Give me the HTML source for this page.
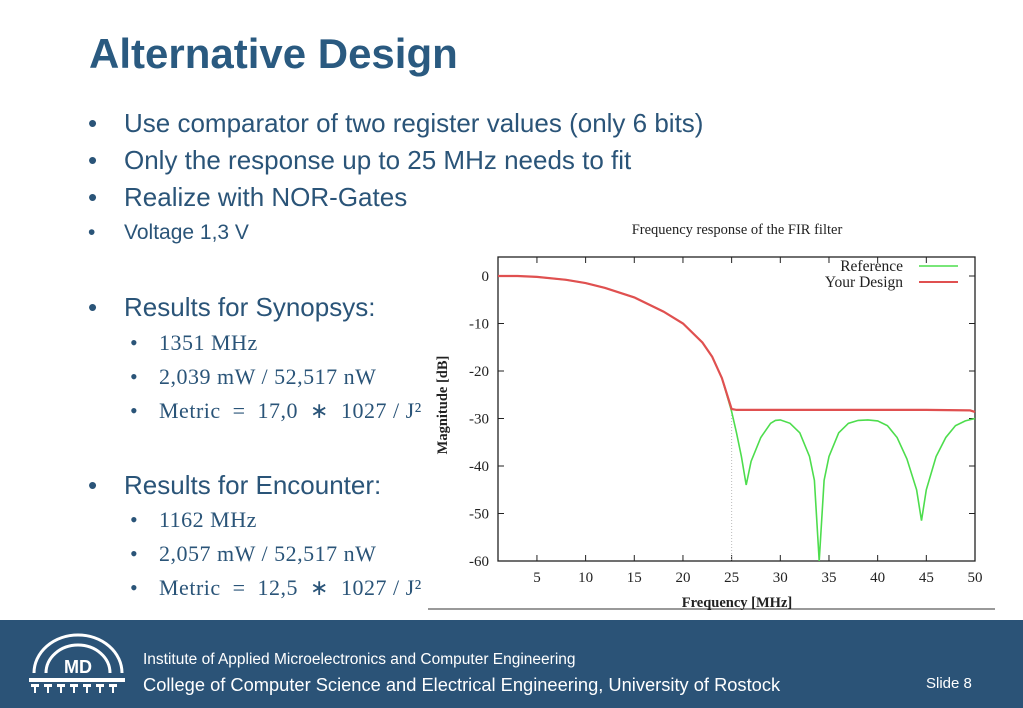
<!DOCTYPE html>
<html><head><meta charset="utf-8"><style>
body{margin:0;width:1023px;height:708px;position:relative;background:#fff;overflow:hidden;font-family:"Liberation Sans",sans-serif;color:#2a5478}
.a{position:absolute;white-space:nowrap}
.b{font-size:26px}
.s{font-family:"Liberation Serif",serif;font-size:22px;letter-spacing:0.5px}
</style></head><body>
<div class="a" style="left:89px;top:30px;font-size:42px;font-weight:bold;color:#2a5a80">Alternative Design</div>
<div class="a b" style="left:88px;top:108px">•<span style="position:absolute;left:36px">Use comparator of two register values (only 6 bits)</span></div>
<div class="a b" style="left:88px;top:145px">•<span style="position:absolute;left:36px">Only the response up to 25 MHz needs to fit</span></div>
<div class="a b" style="left:88px;top:182px">•<span style="position:absolute;left:36px">Realize with NOR-Gates</span></div>
<div class="a" style="left:88px;top:221px;font-size:21px">•<span style="position:absolute;left:36px">Voltage 1,3 V</span></div>
<div class="a b" style="left:88px;top:292px">•<span style="position:absolute;left:36px">Results for Synopsys:</span></div>
<div class="a s" style="left:130px;top:330px">•<span style="position:absolute;left:29px">1351 MHz</span></div>
<div class="a s" style="left:130px;top:364px">•<span style="position:absolute;left:29px">2,039 mW / 52,517 nW</span></div>
<div class="a s" style="left:130px;top:398px">•<span style="position:absolute;left:29px">Metric &nbsp;= &nbsp;17,0 &nbsp;∗ &nbsp;1027 / J²</span></div>
<div class="a b" style="left:88px;top:470px">•<span style="position:absolute;left:36px">Results for Encounter:</span></div>
<div class="a s" style="left:130px;top:507px">•<span style="position:absolute;left:29px">1162 MHz</span></div>
<div class="a s" style="left:130px;top:541px">•<span style="position:absolute;left:29px">2,057 mW / 52,517 nW</span></div>
<div class="a s" style="left:130px;top:575px">•<span style="position:absolute;left:29px">Metric &nbsp;= &nbsp;12,5 &nbsp;∗ &nbsp;1027 / J²</span></div>

<svg class="a" style="left:0;top:0" width="1023" height="708" font-family="Liberation Serif, serif" fill="#222">
<line x1="428" y1="609" x2="995" y2="609" stroke="#333" stroke-width="1"/>
<text x="737" y="234" text-anchor="middle" font-size="14.5">Frequency response of the FIR filter</text>
<text transform="translate(447,405) rotate(-90)" text-anchor="middle" font-size="14.5" font-weight="bold">Magnitude [dB]</text>
<text x="737" y="607" text-anchor="middle" font-size="14.5" font-weight="bold">Frequency [MHz]</text>
<g id="g"></g>
</svg>

<div class="a" style="left:0;top:620px;width:1023px;height:88px;background:#2b5377"></div>
<svg class="a" style="left:26px;top:628px" width="105" height="70" fill="none" stroke="#fff">
<path d="M8 45 A44 38 0 0 1 96 45" stroke-width="3"/>
<path d="M20 45 A32 28 0 0 1 84 45" stroke-width="3"/>
<text x="52" y="45" text-anchor="middle" fill="#fff" stroke="none" font-size="18" font-weight="bold" font-family="Liberation Sans, sans-serif">MD</text>
<rect x="3" y="50" width="96" height="4" fill="#fff" stroke="none"/>
<g fill="#fff" stroke="none">
<rect x="5" y="56" width="8" height="3"/><rect x="18" y="56" width="8" height="3"/><rect x="31" y="56" width="8" height="3"/><rect x="44" y="56" width="8" height="3"/><rect x="57" y="56" width="8" height="3"/><rect x="70" y="56" width="8" height="3"/><rect x="83" y="56" width="8" height="3"/>
<rect x="8" y="59" width="2" height="6"/><rect x="21" y="59" width="2" height="6"/><rect x="34" y="59" width="2" height="6"/><rect x="47" y="59" width="2" height="6"/><rect x="60" y="59" width="2" height="6"/><rect x="73" y="59" width="2" height="6"/><rect x="86" y="59" width="2" height="6"/>
</g></svg>
<div class="a" style="left:143px;top:651px;font-size:15.5px;color:#fff">Institute of Applied Microelectronics and Computer Engineering</div>
<div class="a" style="left:143px;top:674px;font-size:18.3px;color:#fff">College of Computer Science and Electrical Engineering, University of Rostock</div>
<div class="a" style="left:926px;top:675px;font-size:15px;color:#fff">Slide 8</div>

<script>
const xTicks=[5,10,15,20,25,30,35,40,45,50];
const yTicks=[0,-10,-20,-30,-40,-50,-60];
const refFreq=[1,3,5,8,10,12,15,18,20,22,23,24,25,25.5,26,26.5,27,28,29,29.5,30,31,32,33,33.5,34,34.5,35,36,37,38,39,40,41,42,43,44,44.5,45,46,47,48,49,50];
const refMag=[0,0,-0.2,-0.8,-1.5,-2.5,-4.5,-7.5,-10,-14,-17,-21.5,-28.5,-33,-38,-44,-39,-34,-31,-30.4,-30.3,-31,-33,-38,-43,-60,-43,-38,-33,-31,-30.4,-30.3,-30.5,-31.5,-34,-38.5,-45,-51.5,-45,-38,-34,-31.5,-30.5,-30];
const desFreq=[1,3,5,8,10,12,15,18,20,22,23,24,25,25.5,30,35,40,45,49.5,50];
const desMag=[0,0,-0.2,-0.8,-1.5,-2.5,-4.5,-7.5,-10,-14,-17,-21.5,-28,-28.2,-28.2,-28.2,-28.2,-28.2,-28.3,-28.6];
const X0=1,X1=50,Y0=-60,Y1=4,L=498,R=975,T=257,B=561;
const sx=v=>L+(v-X0)/(X1-X0)*(R-L);
const sy=v=>B-(v-Y0)/(Y1-Y0)*(B-T);
const NS='http://www.w3.org/2000/svg',g=document.getElementById('g');
function mk(t,a){const e=document.createElementNS(NS,t);for(const k in a)e.setAttribute(k,a[k]);g.appendChild(e);return e;}
const fr=mk('rect',{x:L,y:T,width:R-L,height:B-T,fill:'none',stroke:'#222','stroke-width':1.3});


xTicks.forEach(v=>{
 mk('line',{x1:sx(v),x2:sx(v),y1:B,y2:B-6,stroke:'#222'});mk('line',{x1:sx(v),x2:sx(v),y1:T,y2:T+6,stroke:'#222'});
 const t=mk('text',{x:sx(v),y:B+21,'text-anchor':'middle','font-size':15});t.textContent=v;
 
 
});
yTicks.forEach(v=>{
 mk('line',{x1:L,x2:L+6,y1:sy(v),y2:sy(v),stroke:'#222'});mk('line',{x1:R,x2:R-6,y1:sy(v),y2:sy(v),stroke:'#222'});
 const t=mk('text',{x:L-9,y:sy(v)+5,'text-anchor':'end','font-size':15});t.textContent=v;
 
 
});
mk('line',{x1:sx(25),x2:sx(25),y1:sy(-28),y2:B,stroke:'#bbb','stroke-dasharray':'1,2'});
const pts=(f,m)=>f.map((v,i)=>sx(v).toFixed(1)+','+sy(m[i]).toFixed(1)).join(' ');
const l1=mk('polyline',{points:pts(refFreq,refMag),fill:'none',stroke:'#4ddd4d','stroke-width':1.6});


const l2=mk('polyline',{points:pts(desFreq,desMag),fill:'none',stroke:'#e05050','stroke-width':2.2});


const t1=mk('text',{x:903,y:271,'text-anchor':'end','font-size':15.5});t1.textContent='Reference';


mk('line',{x1:919,x2:958,y1:266,y2:266,stroke:'#4ddd4d','stroke-width':1.6});
const t2=mk('text',{x:903,y:287,'text-anchor':'end','font-size':15.5});t2.textContent='Your Design';


mk('line',{x1:919,x2:958,y1:282,y2:282,stroke:'#e05050','stroke-width':2});
</script>
</body></html>
